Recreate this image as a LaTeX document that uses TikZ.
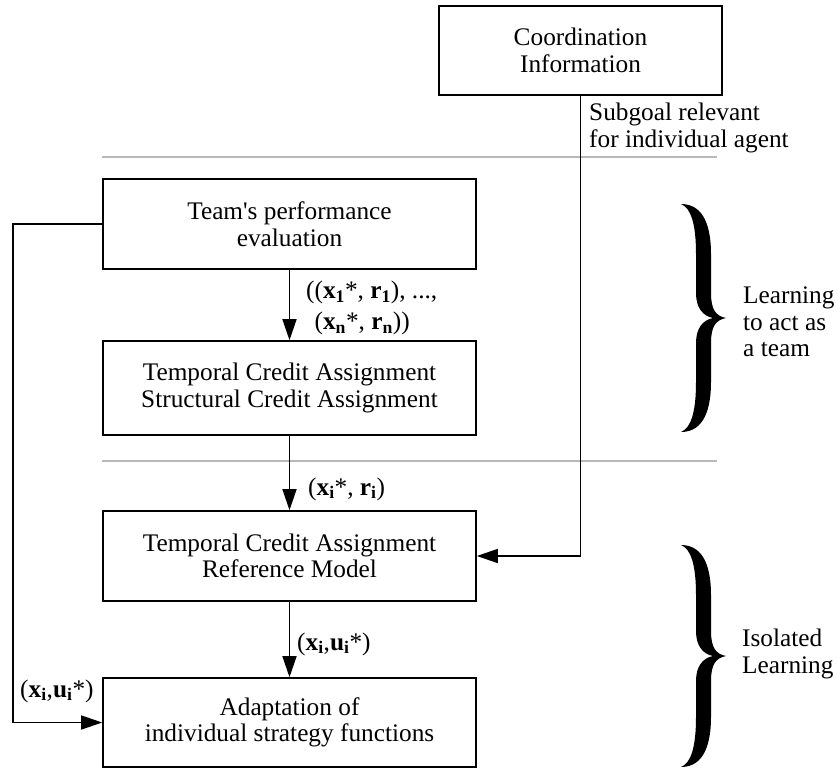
\documentclass[tikz,border=0pt]{standalone}
\usepackage{fontspec}
\setmainfont{Liberation Serif}
\usetikzlibrary{arrows.meta}

\newcommand{\bsub}[2]{\textbf{#1}\textsubscript{\textbf{#2}}}
% filled curly brace: centre x, tip y, half height
\newcommand{\curlybrace}[3]{%
  \fill[shift={(#1,#2)}] (-22,-#3) .. controls (2,-#3) and (8,-#3+25) .. (8,-#3+50)
    -- (8,-25) .. controls (8,-8) and (13,-2) .. (23,0)
    .. controls (13,2) and (8,8) .. (8,25)
    -- (8,#3-50) .. controls (8,#3-25) and (2,#3) .. (-22,#3)
    .. controls (-12,#3-4) and (-7,#3-20) .. (-7,#3-50)
    -- (-7,25) .. controls (-7,10) and (0,2) .. (10,0)
    .. controls (0,-2) and (-7,-10) .. (-7,-25)
    -- (-7,-#3+50) .. controls (-7,-#3+20) and (-12,-#3+4) .. (-22,-#3) -- cycle;}

\begin{document}
\begin{tikzpicture}[x=1pt, y=-1pt,
    font=\fontsize{25.3}{26.5}\selectfont,
    block/.style={draw, line width=1.6pt, minimum width=373pt, minimum height=90pt, align=center, inner sep=0pt},
    flow/.style={line width=1.5pt, -{Triangle[length=21pt, width=14pt]}},
    sep/.style={line width=1.8pt, gray!55},
    lbl/.style={inner sep=0pt, align=left}]
    \useasboundingbox (0,0) rectangle (838,769);

    % Blocks
    \node[block, minimum width=283pt, minimum height=89pt] (coord) at (580.5,50.5) {Coordination\\Information};
    \node[block] (team) at (289.5,224) {Team\textquotesingle s performance\\evaluation};
    \node[block, minimum height=94pt] (credit) at (289.5,388) {Temporal Credit Assignment\\Structural Credit Assignment};
    \node[block] (temporal) at (289.5,556) {Temporal Credit Assignment\\Reference Model};
    \node[block, minimum height=89pt] (adapt) at (289.5,722.5) {Adaptation of\\individual strategy functions};

    % Level separators
    \draw[sep] (102,157) -- (717,157);
    \draw[sep] (102,461) -- (717,461);

    % Arrows
    \draw[flow] (team) -- (credit);
    \draw[flow] (credit) -- (temporal);
    \draw[flow] (temporal) -- (adapt);
    \draw[flow] (coord.south) |- (temporal.east);
    \coordinate (back) at (13,224);
    \draw[flow] (team.west) -- (back) |- (adapt.west);

    % Arrow labels
    \node[lbl, anchor=west] (pairs) at (306,308) {((\bsub{x}{1}*, \bsub{r}{1}), ...,\\[5pt]\phantom{(}(\bsub{x}{n}*, \bsub{r}{n}))};
    \node[lbl, anchor=base west] (target) at (308,495) {(\bsub{x}{i}*, \bsub{r}{i})};
    \node[lbl, anchor=base west] (control) at (297,650) {(\bsub{x}{i},\bsub{u}{i}*)};
    \node[lbl, anchor=base west] (feedback) at (20,697) {(\bsub{x}{i},\bsub{u}{i}*)};
    \node[lbl, anchor=west] (subgoal) at (589,128) {Subgoal relevant\\for individual agent};

    % Braces and phase names
    \curlybrace{703}{318}{114}
    \curlybrace{703}{656}{111}
    \node[lbl, anchor=west] (teamlbl) at (743,322) {Learning\\to act as\\a team};
    \node[lbl, anchor=west] (isolbl) at (742,654) {Isolated\\Learning};
\end{tikzpicture}
\end{document}
